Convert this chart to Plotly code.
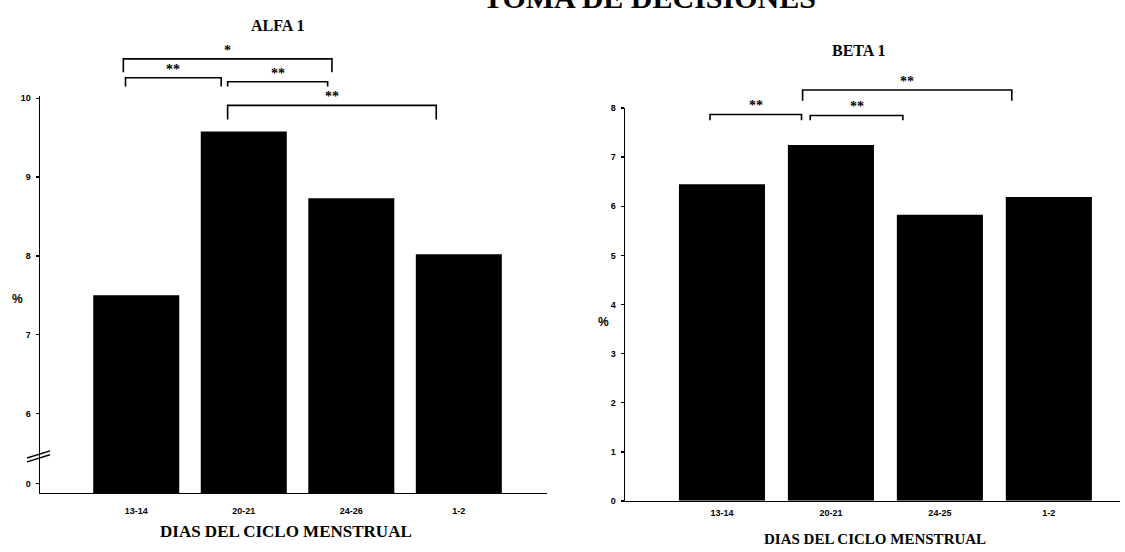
import plotly.graph_objects as go

# ---------------- data ----------------
categories_alfa = ["13-14", "20-21", "24-26", "1-2"]
values_alfa = [7.50, 9.58, 8.73, 8.02]

categories_beta = ["13-14", "20-21", "24-25", "1-2"]
values_beta = [6.45, 7.25, 5.83, 6.19]

ytick_vals_alfa = [5.11, 6, 7, 8, 9, 10]
ytick_text_alfa = ["0", "6", "7", "8", "9", "10"]
ytick_vals_beta = [0, 1, 2, 3, 4, 5, 6, 7, 8]

# significance comparisons (bar index i, bar index j, label)
sig_alfa = [(0, 2, "*"), (0, 1, "**"), (1, 2, "**"), (1, 3, "**")]
sig_beta = [(0, 1, "**"), (1, 2, "**"), (1, 3, "**")]

title_alfa = "ALFA 1"
title_beta = "BETA 1"
xtitle = "DIAS DEL CICLO MENSTRUAL"
page_title = "TOMA DE DECISIONES"

# ---------------- layout / style ----------------
W, H = 1125, 552
# bracket geometry (style): line level, drop level, x start offset, x end offset
br_alfa = [(10.50, 10.33, -0.12, -0.18), (10.26, 10.15, -0.10, -0.21),
           (10.21, 10.15, -0.15, -0.22), (9.91, 9.73, -0.15, -0.21)]
br_beta = [(7.87, 7.75, -0.11, -0.27), (7.85, 7.75, -0.19, -0.34),
           (8.37, 8.15, -0.26, -0.34)]

dom_x1 = [40 / W, 547 / W]
dom_y1 = [1 - 497 / H, 1 - 93 / H]
rng_y1 = [4.99, 10.025]
rng_x1 = [-0.895, 3.82]

dom_x2 = [625 / W, 1120 / W]
dom_y2 = [1 - 505 / H, 1 - 105 / H]
rng_y2 = [0, 8.0]
rng_x2 = [-0.89, 3.653]


def to_paper(v, dom, rng):
    return dom[0] + (v - rng[0]) / (rng[1] - rng[0]) * (dom[1] - dom[0])


fig = go.Figure()
fig.add_trace(go.Bar(x=categories_alfa, y=values_alfa, marker=dict(color="black", line=dict(width=0)),
                     width=0.8, xaxis="x", yaxis="y", showlegend=False))
fig.add_trace(go.Bar(x=categories_beta, y=values_beta, marker=dict(color="black", line=dict(width=0)),
                     width=0.79, xaxis="x2", yaxis="y2", showlegend=False))

tickfont = dict(family="Liberation Sans", size=9, color="black", weight="bold")
axcommon = dict(showgrid=False, zeroline=False, showline=True, linecolor="black", linewidth=1.5,
                tickfont=tickfont, fixedrange=True)

fig.update_layout(
    width=W, height=H,
    margin=dict(l=0, r=0, t=0, b=0),
    paper_bgcolor="white", plot_bgcolor="white",
    bargap=0.2,
    xaxis=dict(domain=dom_x1, range=rng_x1, type="category", anchor="y", ticks="",
               ticklabelstandoff=9, **axcommon),
    yaxis=dict(domain=dom_y1, range=rng_y1, anchor="x", tickvals=ytick_vals_alfa, ticktext=ytick_text_alfa,
               ticks="outside", ticklen=3, tickwidth=1.5, tickcolor="black", ticklabelstandoff=3, **axcommon),
    xaxis2=dict(domain=dom_x2, range=rng_x2, type="category", anchor="y2", ticks="",
                ticklabelstandoff=3, **axcommon),
    yaxis2=dict(domain=dom_y2, range=rng_y2, anchor="x2", tickvals=ytick_vals_beta,
                ticks="outside", ticklen=3, tickwidth=1.5, tickcolor="black", ticklabelstandoff=3, **axcommon),
)

shapes = []
annotations = []

serif = "Liberation Serif"


def add_brackets(sig, geom, xref, dom, rng):
    for (i, j, lab), (lvl, drop, o0, o1) in zip(sig, geom):
        x0, x1 = i + o0, j + o1
        yl = to_paper(lvl, dom, rng)
        yd = to_paper(drop, dom, rng)
        shapes.append(dict(type="path", xref=xref, yref="paper",
                           path=f"M {x0},{yd} L {x0},{yl} L {x1},{yl} L {x1},{yd}",
                           line=dict(color="black", width=1.6)))
        annotations.append(dict(x=(x0 + x1) / 2, y=yl, xref=xref, yref="paper", text=lab,
                                showarrow=False, xanchor="center", yanchor="bottom", yshift=-1,
                                font=dict(family=serif, size=14, color="black", weight="bold")))


add_brackets(sig_alfa, br_alfa, "x", dom_y1, rng_y1)
add_brackets(sig_beta, br_beta, "x2", dom_y2, rng_y2)

# axis break marks on the ALFA y axis (between 0 and 6)
for v in [5.43, 5.48]:
    shapes.append(dict(type="line", xref="paper", yref="y", x0=27 / W, x1=50 / W,
                       y0=v - 0.045, y1=v + 0.045, line=dict(color="black", width=1.5)))


def label(x, y, text, size, family=serif, **kw):
    d = dict(x=x / W, y=1 - y / H, xref="paper", yref="paper", text=text, showarrow=False,
             xanchor="center", yanchor="middle",
             font=dict(family=family, size=size, color="black", weight="bold"))
    d.update(kw)
    return d


annotations += [
    label(277, 21, title_alfa, 16),
    label(859, 46, title_beta, 16),
    label(286, 536, xtitle, 17),
    label(875, 544, xtitle, 15),
    label(17, 299, "%", 12, family="Liberation Sans"),
    label(603, 323, "%", 12, family="Liberation Sans"),
    label(818, -8, page_title, 30, xanchor="right"),
]

fig.update_layout(shapes=shapes, annotations=annotations)
fig.write_html("out.html", config={"displayModeBar": False, "staticPlot": True})

# remove the default page margin so the figure sits at the window's top-left corner
with open("out.html", "r", encoding="utf-8") as f:
    html = f.read()
html = html.replace("<head>", "<head><style>html,body{margin:0;padding:0;overflow:hidden;}</style>", 1)
with open("out.html", "w", encoding="utf-8") as f:
    f.write(html)
